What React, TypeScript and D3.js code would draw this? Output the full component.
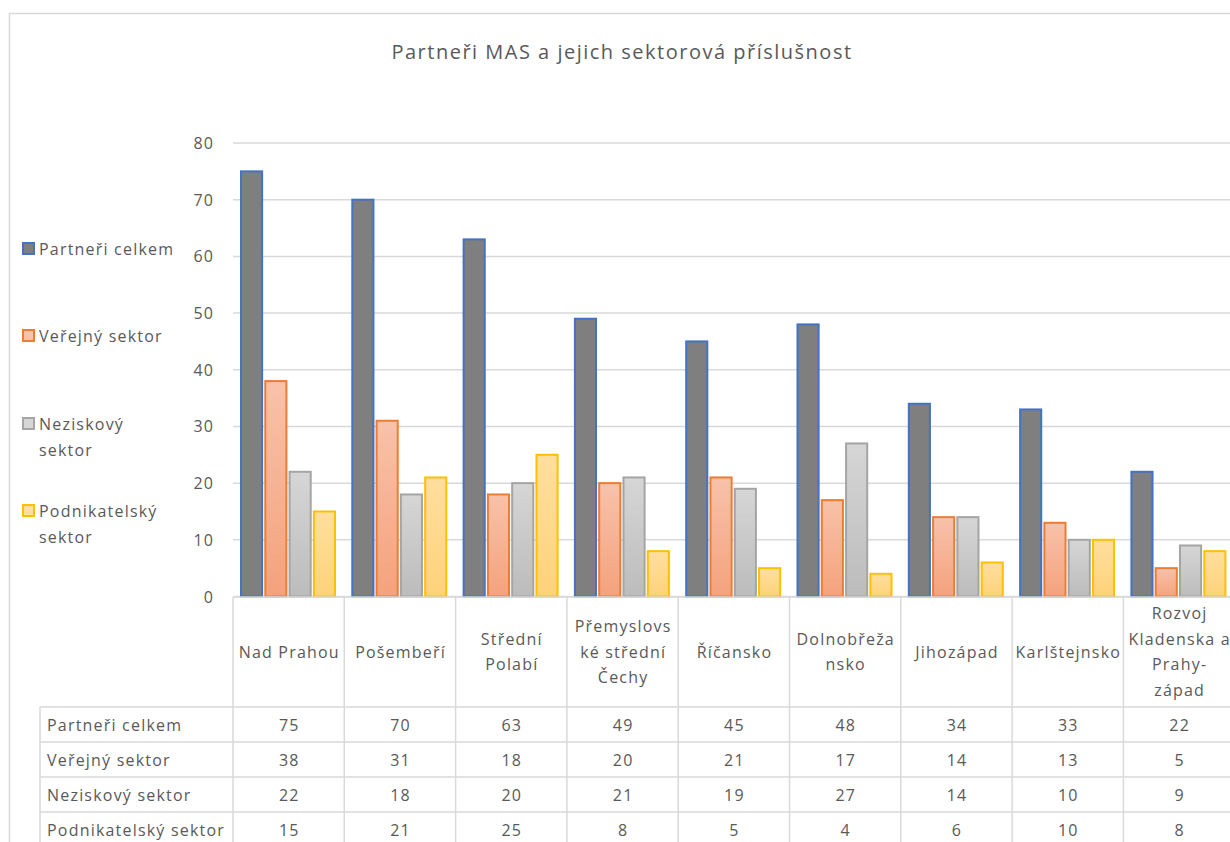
import { useEffect, useRef } from 'react';
import * as d3 from 'd3';

const TITLE = 'Partneři MAS a jejich sektorová příslušnost';

const categories = [
  'Nad Prahou',
  'Pošembeří',
  'Střední Polabí',
  'Přemyslovské střední Čechy',
  'Říčansko',
  'Dolnobřežansko',
  'Jihozápad',
  'Karlštejnsko',
  'Rozvoj Kladenska a Prahy-západ',
];

// how the axis labels wrap inside their table cells
const categoryLines = [
  ['Nad Prahou'],
  ['Pošembeří'],
  ['Střední', 'Polabí'],
  ['Přemyslovs', 'ké střední', 'Čechy'],
  ['Říčansko'],
  ['Dolnobřeža', 'nsko'],
  ['Jihozápad'],
  ['Karlštejnsko'],
  ['Rozvoj', 'Kladenska a', 'Prahy-', 'západ'],
];

const seriesNames = ['Partneři celkem', 'Veřejný sektor', 'Neziskový sektor', 'Podnikatelský sektor'];
const legendLines = [['Partneři celkem'], ['Veřejný sektor'], ['Neziskový', 'sektor'], ['Podnikatelský', 'sektor']];

const partneriCelkem = [75, 70, 63, 49, 45, 48, 34, 33, 22];
const verejnySektor = [38, 31, 18, 20, 21, 17, 14, 13, 5];
const neziskovySektor = [22, 18, 20, 21, 19, 27, 14, 10, 9];
const podnikatelskySektor = [15, 21, 25, 8, 5, 4, 6, 10, 8];

const seriesValues = [partneriCelkem, verejnySektor, neziskovySektor, podnikatelskySektor];

const yTicks = [0, 10, 20, 30, 40, 50, 60, 70, 80];

const STROKES = ['#4472c4', '#ed7d31', '#a5a5a5', '#ffc000'];
const GRADS: [string, string][] = [
  ['#7f7f7f', '#7f7f7f'],
  ['#f8c2ab', '#f4a27c'],
  ['#d6d6d6', '#bcbcbc'],
  ['#ffdf9e', '#ffd27a'],
];

const TEXT = '#595959';
const GRID = '#d9d9d9';
const FONT = '"Open Sans", "DejaVu Sans", sans-serif';
const LS = 1.2; // letter spacing of the regular labels

export default function App() {
  const svgRef = useRef<SVGSVGElement>(null);

  useEffect(() => {
    document.body.style.margin = '0';
    if (!svgRef.current) return;
    const W = 1230;
    const H = 842;
    const svg = d3.select(svgRef.current);
    svg.selectAll('*').remove();
    svg.attr('width', W).attr('height', H).style('font-family', FONT);

    svg.append('rect').attr('width', W).attr('height', H).attr('fill', '#fff');

    // chart frame
    svg
      .append('rect')
      .attr('x', 9.5)
      .attr('y', 13.5)
      .attr('width', 1400)
      .attr('height', 1000)
      .attr('fill', 'none')
      .attr('stroke', GRID)
      .attr('stroke-width', 1.5);

    const plotLeft = 233;
    const colW = 111.3;
    const x = d3
      .scaleBand<string>()
      .domain(categories)
      .range([plotLeft, plotLeft + colW * categories.length]);
    const xInner = d3
      .scaleBand<number>()
      .domain(d3.range(seriesNames.length))
      .range([8, 102])
      .paddingInner(0.13);
    const y = d3.scaleLinear().domain([0, 80]).range([596.5, 143]);

    const label = (g: d3.Selection<any, unknown, null, undefined>) =>
      g
        .append('text')
        .attr('dominant-baseline', 'central')
        .attr('font-size', 16)
        .attr('letter-spacing', LS)
        .attr('fill', TEXT);

    svg
      .append('text')
      .attr('x', 622)
      .attr('y', 51)
      .attr('text-anchor', 'middle')
      .attr('dominant-baseline', 'central')
      .attr('font-size', 20)
      .attr('letter-spacing', 1.5)
      .attr('fill', TEXT)
      .text(TITLE);

    const defs = svg.append('defs');
    GRADS.forEach((g, i) => {
      const lg = defs
        .append('linearGradient')
        .attr('id', `grad${i}`)
        .attr('x1', 0)
        .attr('y1', 0)
        .attr('x2', 0)
        .attr('y2', 1);
      lg.append('stop').attr('offset', '0%').attr('stop-color', g[0]);
      lg.append('stop').attr('offset', '100%').attr('stop-color', g[1]);
    });

    // gridlines + y labels
    svg
      .append('g')
      .selectAll('line')
      .data(yTicks)
      .join('line')
      .attr('x1', plotLeft)
      .attr('x2', W + 10)
      .attr('y1', (d) => y(d))
      .attr('y2', (d) => y(d))
      .attr('stroke', GRID)
      .attr('stroke-width', 1.5);

    const yl = svg.append('g');
    yTicks.forEach((t) => {
      label(yl)
        .attr('x', 213 + LS)
        .attr('y', y(t))
        .attr('text-anchor', 'end')
        .text(t);
    });

    // bars
    seriesValues.forEach((vals, si) => {
      svg
        .append('g')
        .selectAll('rect')
        .data(vals)
        .join('rect')
        .attr('x', (_, ci) => (x(categories[ci]) ?? 0) + (xInner(si) ?? 0))
        .attr('y', (d) => y(d))
        .attr('width', xInner.bandwidth())
        .attr('height', (d) => y(0) - y(d))
        .attr('fill', `url(#grad${si})`)
        .attr('stroke', STROKES[si])
        .attr('stroke-width', 2);
    });

    // legend
    const legendY = [249, 336, 424, 511];
    legendLines.forEach((lines, i) => {
      const g = svg.append('g');
      g.append('rect')
        .attr('x', 23)
        .attr('y', legendY[i] - 6)
        .attr('width', 11)
        .attr('height', 11)
        .attr('fill', GRADS[i][0])
        .attr('stroke', STROKES[i])
        .attr('stroke-width', 2);
      lines.forEach((ln, li) => {
        label(g)
          .attr('x', 39)
          .attr('y', legendY[i] + li * 26)
          .text(ln);
      });
    });

    // data table
    const headTop = 597;
    const headBottom = 707;
    const rowH = 35;
    const tableLeft = 40;
    const table = svg.append('g');

    table
      .append('line')
      .attr('x1', plotLeft)
      .attr('x2', W + 10)
      .attr('y1', headTop)
      .attr('y2', headTop)
      .attr('stroke', GRID)
      .attr('stroke-width', 1.5);

    d3.range(seriesNames.length + 1).forEach((r) => {
      const yy = headBottom + r * rowH;
      table
        .append('line')
        .attr('x1', tableLeft)
        .attr('x2', W + 10)
        .attr('y1', yy)
        .attr('y2', yy)
        .attr('stroke', GRID)
        .attr('stroke-width', 1.5);
    });

    table
      .append('line')
      .attr('x1', tableLeft)
      .attr('x2', tableLeft)
      .attr('y1', headBottom)
      .attr('y2', H + 10)
      .attr('stroke', GRID)
      .attr('stroke-width', 1.5);

    table
      .selectAll('line.col')
      .data(categories)
      .join('line')
      .attr('class', 'col')
      .attr('x1', (d) => x(d) ?? 0)
      .attr('x2', (d) => x(d) ?? 0)
      .attr('y1', headTop)
      .attr('y2', H + 10)
      .attr('stroke', GRID)
      .attr('stroke-width', 1.5);

    // category labels
    categories.forEach((c, ci) => {
      const lines = categoryLines[ci];
      const cx = (x(c) ?? 0) + x.bandwidth() / 2 + LS / 2;
      const mid = (headTop + headBottom) / 2 - 0.5;
      lines.forEach((ln, li) => {
        label(table)
          .attr('x', cx)
          .attr('y', mid + (li - (lines.length - 1) / 2) * 25.7)
          .attr('text-anchor', 'middle')
          .text(ln);
      });
    });

    // row labels and values
    seriesNames.forEach((name, si) => {
      const cy = headBottom + si * rowH + rowH / 2;
      label(table).attr('x', 47).attr('y', cy).text(name);
      seriesValues[si].forEach((v, ci) => {
        label(table)
          .attr('x', (x(categories[ci]) ?? 0) + x.bandwidth() / 2 + LS / 2)
          .attr('y', cy)
          .attr('text-anchor', 'middle')
          .text(v);
      });
    });
  }, []);

  return (
    <svg
      ref={svgRef}
      style={{ position: 'fixed', left: 0, top: 0, display: 'block' }}
    />
  );
}
